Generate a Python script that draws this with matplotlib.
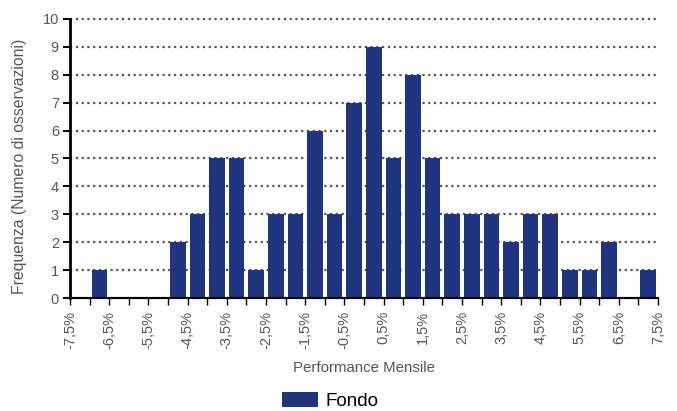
import matplotlib
matplotlib.use("Agg")
import matplotlib.pyplot as plt
import numpy as np
from matplotlib.patches import Patch

plt.rcParams['font.family'] = ['Liberation Sans', 'DejaVu Sans']

bin_left = [-7.5 + 0.5 * i for i in range(30)]
counts = [0, 1, 0, 0, 0, 2, 3, 5, 5, 1, 3, 3, 6, 3, 7, 9, 5, 8, 5, 3, 3, 3, 2, 3, 3, 1, 1, 2, 0, 1]
tick_values = [-7.5, -6.5, -5.5, -4.5, -3.5, -2.5, -1.5, -0.5, 0.5, 1.5, 2.5, 3.5, 4.5, 5.5, 6.5, 7.5]
tick_labels = ["-7,5%", "-6,5%", "-5,5%", "-4,5%", "-3,5%", "-2,5%", "-1,5%", "-0,5%",
               "0,5%", "1,5%", "2,5%", "3,5%", "4,5%", "5,5%", "6,5%", "7,5%"]
series_name = "Fondo"
bar_color = "#20357f"
text_color = "#555555"

fig = plt.figure(figsize=(6.77, 4.11), dpi=100)
ax = fig.add_axes([70/677, 1 - 298/411, (658 - 70)/677, (298 - 19)/411])

centers = np.array(bin_left) + 0.25
ax.bar(centers, counts, width=0.4, color=bar_color, zorder=3)

ax.set_xlim(-7.5, 7.5)
ax.set_ylim(0, 10)
ax.set_yticks(range(0, 11))
ax.set_xticks(tick_values)
ax.set_xticklabels(tick_labels, rotation=90, color=text_color, fontsize=10.5)
ax.set_xticks(np.arange(-7.0, 7.5, 1.0), minor=True)
ax.tick_params(axis='y', labelsize=10.5, labelcolor=text_color, length=5, width=1.5, color='black', pad=3)
ax.tick_params(axis='x', which='both', length=5, width=1, color='black', pad=4)

ax.yaxis.grid(True, linestyle=(0, (1, 1.6)), color='#555555', linewidth=1.6, zorder=0)
for gl in ax.yaxis.get_gridlines():
    gl.set_clip_on(False)
ax.set_axisbelow(True)

for s in ['top', 'right']:
    ax.spines[s].set_visible(False)
ax.spines['left'].set_linewidth(2)
ax.spines['bottom'].set_linewidth(1.5)
ax.spines['left'].set_zorder(4)
ax.spines['bottom'].set_zorder(4)

ax.set_ylabel("Frequenza (Numero di osservazioni)", color=text_color, fontsize=11.3)
ax.yaxis.label.set_verticalalignment('center')
ax.yaxis.set_label_coords((20 - 70) / 588, 1 - (166 - 19) / 279)
ax.set_xlabel("Performance Mensile", color=text_color, fontsize=10.8, labelpad=9)

handle = Patch(facecolor=bar_color, edgecolor='none')
fig.legend([handle], [series_name], loc='center', bbox_to_anchor=(330/677, 1 - 401/411),
           frameon=False, fontsize=13.5, handlelength=1.9, handleheight=0.85, handletextpad=0.4)

fig.savefig("out.png", dpi=100)
